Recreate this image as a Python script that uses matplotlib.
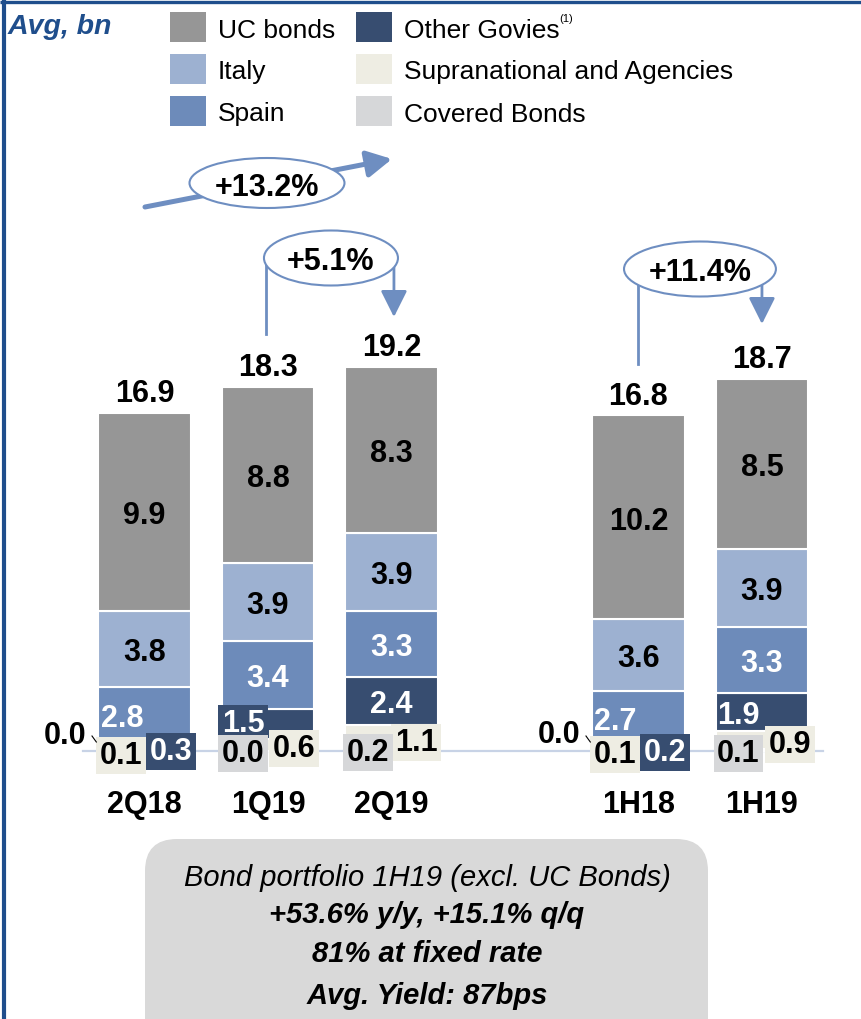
import matplotlib
matplotlib.use("Agg")
import matplotlib.pyplot as plt
from matplotlib.patches import Ellipse, FancyBboxPatch, Rectangle, FancyArrowPatch
import numpy as np

plt.rcParams['font.family'] = ['Liberation Sans', 'DejaVu Sans']

# Daten (Avg, bn)
categories = ['2Q18', '1Q19', '2Q19', '1H18', '1H19']
totals = [16.9, 18.3, 19.2, 16.8, 18.7]
covered = [0.0, 0.0, 0.2, 0.0, 0.1]
supra = [0.1, 0.6, 1.1, 0.1, 0.9]
other_govies = [0.3, 1.5, 2.4, 0.2, 1.9]
spain = [2.8, 3.4, 3.3, 2.7, 3.3]
italy = [3.8, 3.9, 3.9, 3.6, 3.9]
uc_bonds = [9.9, 8.8, 8.3, 10.2, 8.5]
growth_labels = ['+13.2%', '+5.1%', '+11.4%']
box_lines = ['Bond portfolio 1H19 (excl. UC Bonds)', '+53.6% y/y, +15.1% q/q',
             '81% at fixed rate', 'Avg. Yield: 87bps']

# Farben
c_uc = '#969696'
c_italy = '#9DB1D1'
c_spain = '#6D8BBA'
c_other = '#374D70'
c_supra = '#EEEDE3'
c_cov = '#D6D7D9'
c_frame = '#1F4E8C'
c_arrow = '#6E8EC1'

x = np.array([0, 1, 2, 4, 5])

fig = plt.figure(figsize=(8.61, 10.2), dpi=100)
ax = fig.add_axes([0, 0, 1, 1])
ax.set_xlim(-1.170, 5.802)
ax.set_ylim(-13.4, 37.6)
ax.axis('off')

# Overlay in Pixelkoordinaten fuer Legende, Rahmen, Box
deco = fig.add_axes([0, 0, 1, 1], zorder=-1)
deco.set_xlim(0, 861)
deco.set_ylim(1020, 0)
deco.axis('off')

# gestapelte Balken
series = [covered, supra, other_govies, spain, italy, uc_bonds]
colors = [c_cov, c_supra, c_other, c_spain, c_italy, c_uc]
bottoms = []
bottom = np.zeros(len(x))
for vals, col in zip(series, colors):
    bottoms.append(bottom.copy())
    ax.bar(x, vals, 0.75, bottom=bottom, color=col, edgecolor='white', linewidth=1.5, zorder=2)
    bottom = bottom + np.array(vals)
tops = bottom

ax.plot([-0.498, 5.494], [0, 0], color='#C8D3E6', lw=1.6, zorder=1)

lab = dict(fontsize=22, fontweight='bold', ha='center', va='center_baseline', zorder=5)

def boxed(xx, yy, txt, fc, tc):
    ax.text(xx, yy, txt, color=tc, bbox=dict(boxstyle='square,pad=0.12', fc=fc, ec='none'), **lab)

for i in range(len(x)):
    # UC bonds, Italy
    ax.text(x[i], bottoms[5][i] + uc_bonds[i] / 2, f'{uc_bonds[i]:.1f}', color='black', **lab)
    ax.text(x[i], bottoms[4][i] + italy[i] / 2, f'{italy[i]:.1f}', color='black', **lab)
    # Spain
    sp_dx = [-0.18, 0, 0, -0.19, 0][i]
    ax.text(x[i] + sp_dx, bottoms[3][i] + spain[i] / 2, f'{spain[i]:.1f}', color='white', **lab)

# Other Govies
og_pos = [(0.215, 0.15, True), (-0.2, 1.55, True), (0, None, False), (0.214, 0.1, True), (-0.19, None, False)]
for i, (dx, yy, has_box) in enumerate(og_pos):
    if yy is None:
        yy = bottoms[2][i] + other_govies[i] / 2
    txt = f'{other_govies[i]:.1f}'
    if has_box:
        boxed(x[i] + dx, yy, txt, c_other, 'white')
    else:
        ax.text(x[i] + dx, yy, txt, color='white', **lab)

# Supranational
su_pos = [(-0.19, -0.05), (0.21, 0.3), (0.2, 0.6), (-0.19, 0.0), (0.23, 0.5)]
for i, (dx, yy) in enumerate(su_pos):
    boxed(x[i] + dx, yy, f'{supra[i]:.1f}', c_supra, 'black')

# Covered Bonds
cv_pos = [(-0.64, 0.95, False), (-0.2, 0.05, True), (-0.19, 0.1, True), (-0.64, 1.0, False), (-0.19, 0.05, True)]
for i, (dx, yy, has_box) in enumerate(cv_pos):
    txt = f'{covered[i]:.1f}'
    if has_box:
        boxed(x[i] + dx, yy, txt, c_cov, 'black')
    else:
        ax.text(x[i] + dx, yy, txt, color='black', **lab)
        ax.plot([x[i] - 0.425, x[i] - 0.39], [0.75, 0.45], color='black', lw=0.8, zorder=5)

# Summen und Kategorien
for i in range(len(x)):
    ax.text(x[i], tops[i] + 1.15, f'{totals[i]:.1f}', color='black', **lab)
    ax.text(x[i], -2.5, categories[i], color='black', **lab)

# Wachstums-Ovale
def oval(cx, cy, w, h, txt):
    ax.add_patch(Ellipse((cx, cy), w, h, fc='white', ec=c_arrow, lw=1.5, zorder=6))
    ax.text(cx, cy, txt, color='black', fontsize=22, fontweight='bold', ha='center',
            va='center_baseline', zorder=7)

def arrow(p0, p1, lw, ms, style):
    ax.add_patch(FancyArrowPatch(p0, p1, arrowstyle=style, mutation_scale=ms, color=c_arrow,
                                 lw=lw, shrinkA=0, shrinkB=0, zorder=4))

arrow((0.004, 27.2), (2.004, 29.6), 3.6, 20, '-|>,head_length=0.75,head_width=0.4')
oval(0.992, 28.4, 1.255, 2.5, growth_labels[0])

ax.plot([x[1] - 0.016, x[1] - 0.016], [24.6, 20.85], color=c_arrow, lw=2, zorder=4)
arrow((x[2] + 0.02, 24.6), (x[2] + 0.02, 21.7), 2, 18, '-|>,head_length=0.9,head_width=0.45')
oval(1.51, 24.65, 1.085, 2.75, growth_labels[1])

ax.plot([x[3] - 0.004, x[3] - 0.004], [24.1, 19.35], color=c_arrow, lw=2, zorder=4)
arrow((x[4], 24.1), (x[4], 21.35), 2, 18, '-|>,head_length=0.9,head_width=0.45')
oval(4.498, 24.1, 1.23, 2.75, growth_labels[2])

# Rahmen
deco.plot([0, 861], [2.5, 2.5], color=c_frame, lw=2.4, solid_capstyle='butt')
deco.plot([3.5, 3.5], [0, 1020], color=c_frame, lw=3.0, solid_capstyle='butt')

# Titel und Legende
deco.text(8, 27, 'Avg, bn', color=c_frame, fontsize=20.5, fontweight='bold', fontstyle='italic',
          ha='left', va='center')
leg_names = ['UC bonds', 'Italy', 'Spain', 'Other Govies', 'Supranational and Agencies', 'Covered Bonds']
leg_cols = [c_uc, c_italy, c_spain, c_other, c_supra, c_cov]
for k, (nm, col) in enumerate(zip(leg_names, leg_cols)):
    cx0 = 170 if k < 3 else 356
    cy = [28, 70, 112][k % 3]
    deco.add_patch(Rectangle((cx0, cy - 15), 36, 30, fc=col, ec='none'))
    deco.text(cx0 + 48, cy, nm, color='black', fontsize=19, ha='left', va='center_baseline')
deco.text(559, 19, '(1)', color='black', fontsize=8, ha='left', va='center')

# Infobox unten
deco.add_patch(FancyBboxPatch((145, 840), 563, 220, boxstyle='round,pad=0,rounding_size=32',
                              fc='#D9D9D9', ec='none'))
ys = [875, 912, 951, 993]
for k, (ln, yy) in enumerate(zip(box_lines, ys)):
    deco.text(427, yy, ln, color='black', fontsize=21, fontstyle='italic',
              fontweight='normal' if k == 0 else 'bold', ha='center', va='center_baseline')

fig.savefig('out.png', dpi=100)
